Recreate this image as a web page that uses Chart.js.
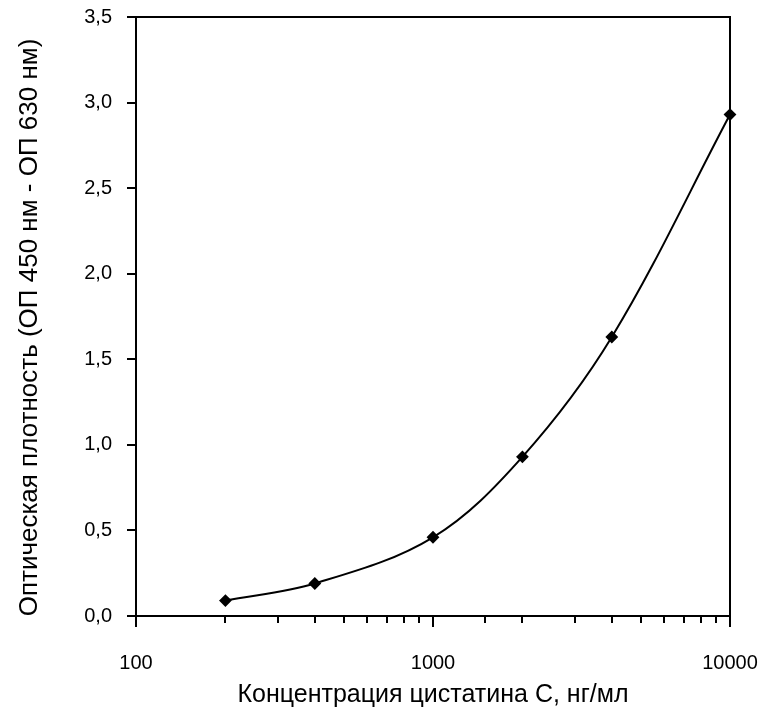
<!DOCTYPE html>
<html>
<head>
<meta charset="utf-8">
<script src="https://cdn.jsdelivr.net/npm/chart.js@4/dist/chart.umd.min.js"></script>
<style>
  html, body { margin: 0; padding: 0; background: #fff; }
  #wrap { width: 758px; height: 715px; }
</style>
</head>
<body>
<div id="wrap"><canvas id="chart"></canvas></div>
<script>
// calibration points: cystatin C concentration (ng/ml) vs optical density
const concentrations = [200, 400, 1000, 2000, 4000, 10000];
const opticalDensity = [0.09, 0.19, 0.46, 0.93, 1.63, 2.93];
const xLabelValues = [100, 1000, 10000];
const xTitle = 'Концентрация цистатина С, нг/мл';
const yTitle = 'Оптическая плотность (ОП 450 нм - ОП 630 нм)';

const FONT = '"Liberation Sans", Arial, sans-serif';

const points = concentrations.map((c, i) => ({ x: c, y: opticalDensity[i] }));

// frame around the plot, outside tick marks (long on decades, short in between)
// and the rotated y axis title
const framePlugin = {
  id: 'frame',
  afterDraw(chart) {
    const { ctx, chartArea: a, scales } = chart;
    ctx.save();
    ctx.strokeStyle = '#000';
    ctx.lineWidth = 2;
    ctx.strokeRect(a.left, a.top, a.right - a.left, a.bottom - a.top);
    ctx.beginPath();
    scales.x.ticks.forEach(t => {
      const px = Math.round(scales.x.getPixelForValue(t.value));
      const major = xLabelValues.includes(t.value);
      ctx.moveTo(px, a.bottom);
      ctx.lineTo(px, a.bottom + (major ? 11 : 7));
    });
    scales.y.ticks.forEach(t => {
      const py = Math.round(scales.y.getPixelForValue(t.value));
      ctx.moveTo(a.left, py);
      ctx.lineTo(a.left - 9, py);
    });
    ctx.stroke();

    ctx.translate(30, (a.top + a.bottom) / 2 + 11);
    ctx.rotate(-Math.PI / 2);
    ctx.fillStyle = '#000';
    ctx.font = '26px ' + FONT;
    ctx.textAlign = 'center';
    ctx.textBaseline = 'middle';
    ctx.fillText(yTitle, 0, 0);
    ctx.restore();
  }
};

// invisible tick marks only reserve room between axis and labels
const hiddenTicks = { display: true, drawOnChartArea: false, drawTicks: true, tickColor: 'rgba(0,0,0,0)' };

new Chart(document.getElementById('chart'), {
  type: 'line',
  data: {
    datasets: [{
      data: points,
      borderColor: '#000',
      backgroundColor: '#000',
      borderWidth: 2,
      tension: 0.35,
      pointStyle: 'rectRot',
      pointRadius: 5,
      pointHoverRadius: 5,
      clip: false
    }]
  },
  options: {
    responsive: true,
    maintainAspectRatio: false,
    animation: false,
    events: [],
    layout: { padding: { top: 17, right: 28, left: 0, bottom: 0 } },
    plugins: { legend: { display: false }, tooltip: { enabled: false } },
    scales: {
      x: {
        type: 'logarithmic',
        min: 100,
        max: 10000,
        afterFit(scale) { scale.height = 99; },
        grid: { ...hiddenTicks, tickLength: 35 },
        border: { display: false },
        ticks: {
          autoSkip: false,
          maxRotation: 0,
          padding: 0,
          color: '#000',
          font: { family: FONT, size: 20 },
          callback: v => xLabelValues.includes(v) ? String(v) : ''
        },
        title: {
          display: true,
          text: xTitle,
          color: '#000',
          font: { family: FONT, size: 25 },
          padding: { top: 0, bottom: 5 }
        }
      },
      y: {
        min: 0,
        max: 3.5,
        afterFit(scale) { scale.width = 136; },
        grid: { ...hiddenTicks, tickLength: 24 },
        border: { display: false },
        ticks: {
          stepSize: 0.5,
          padding: 0,
          color: '#000',
          font: { family: FONT, size: 20 },
          callback: v => v.toFixed(1).replace('.', ',')
        }
      }
    }
  },
  plugins: [framePlugin]
});
</script>
</body>
</html>
